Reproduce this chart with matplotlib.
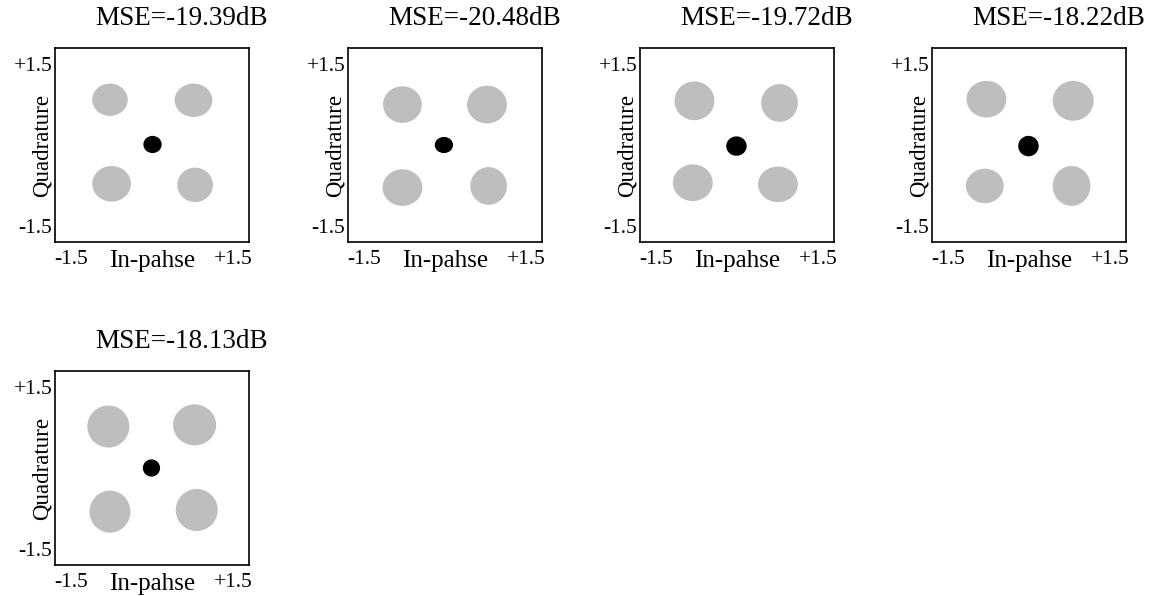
import matplotlib.pyplot as plt
from matplotlib.patches import Ellipse

plt.rcParams['font.family'] = ['Liberation Serif', 'DejaVu Serif']

titles = ["MSE=-19.39dB", "MSE=-20.48dB", "MSE=-19.72dB", "MSE=-18.22dB", "MSE=-18.13dB"]

# grey clusters (TL, TR, BL, BR): centres and extents
gray_x = [[-0.78, 0.77, -0.75, 0.80],
          [-0.79, 0.78, -0.79, 0.81],
          [-0.79, 0.79, -0.82, 0.76],
          [-0.79, 0.82, -0.82, 0.79],
          [-0.81, 0.79, -0.78, 0.83]]
gray_y = [[0.84, 0.83, -0.72, -0.74],
          [0.75, 0.75, -0.79, -0.76],
          [0.82, 0.78, -0.70, -0.73],
          [0.85, 0.82, -0.76, -0.76],
          [0.77, 0.80, -0.81, -0.78]]
gray_w = [[0.66, 0.70, 0.72, 0.66],
          [0.72, 0.74, 0.74, 0.68],
          [0.74, 0.68, 0.74, 0.74],
          [0.74, 0.76, 0.70, 0.70],
          [0.78, 0.80, 0.76, 0.78]]
gray_h = [[0.60, 0.62, 0.66, 0.64],
          [0.68, 0.70, 0.68, 0.70],
          [0.72, 0.70, 0.68, 0.66],
          [0.68, 0.74, 0.64, 0.74],
          [0.78, 0.76, 0.78, 0.78]]

# black centre blob
blk_x = [0.01, -0.02, -0.01, -0.01, -0.01]
blk_y = [0.01, 0.00, -0.02, -0.02, 0.00]
blk_w = [0.34, 0.34, 0.38, 0.38, 0.32]
blk_h = [0.32, 0.30, 0.36, 0.38, 0.32]

# axes boxes in pixels (left, top)
boxes = [(55, 48), (348, 48), (640, 48), (932, 48), (55, 371)]
W, H = 1151, 596
size = 194

fig = plt.figure(figsize=(W / 100, H / 100), dpi=100)

for i in range(5):
    left, top = boxes[i]
    ax = fig.add_axes([left / W, (H - top - size) / H, size / W, size / H])
    ax.set_xlim(-1.8, 1.8)
    ax.set_ylim(-1.8, 1.8)

    for k in range(4):
        ax.add_patch(Ellipse((gray_x[i][k], gray_y[i][k]), gray_w[i][k], gray_h[i][k],
                             facecolor='#bebebe', edgecolor='none'))
    ax.add_patch(Ellipse((blk_x[i], blk_y[i]), blk_w[i], blk_h[i],
                         facecolor='black', edgecolor='none'))

    ax.set_xticks([-1.5, 0, 1.5])
    ax.set_xticklabels(['-1.5', 'In-pahse', '+1.5'])
    ax.set_yticks([-1.5, 0, 1.5])
    ax.set_yticklabels(['-1.5', 'Quadrature', '+1.5'])
    ax.get_yticklabels()[1].set_rotation(90)
    ax.get_yticklabels()[1].set_va('center')
    ax.get_xticklabels()[1].set_fontsize(18)
    ax.get_yticklabels()[1].set_fontsize(16.5)
    for t in [ax.get_xticklabels()[0], ax.get_xticklabels()[2],
              ax.get_yticklabels()[0], ax.get_yticklabels()[2]]:
        t.set_fontsize(15.5)
    ax.tick_params(length=0, pad=6)
    ax.tick_params(axis='y', pad=2)
    for s in ax.spines.values():
        s.set_linewidth(1.2)

    ax.text(0.655, 1.09, titles[i], transform=ax.transAxes, ha='center',
            va='bottom', fontsize=19.5)

fig.savefig('out.png', dpi=100)
